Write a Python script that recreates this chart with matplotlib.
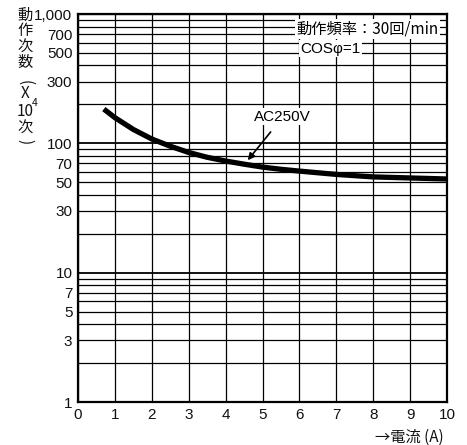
import matplotlib
matplotlib.use("Agg")
import matplotlib.pyplot as plt
from matplotlib.ticker import FixedLocator, NullFormatter, NullLocator

# Data
current_a = [0.7, 1.0, 1.5, 2.0, 2.5, 3.0, 3.5, 4.0, 4.5, 5.0, 5.5, 6.0, 7.0, 8.0, 9.0, 10.0]
operations_1e4 = [184, 158, 128, 108, 95, 85, 78, 73, 69, 65.5, 63, 61, 57.5, 55, 54, 53]
x_ticks = list(range(0, 11))
y_ticks = [1, 3, 5, 7, 10, 30, 50, 70, 100, 300, 500, 700, 1000]
y_tick_labels = ["1", "3", "5", "7", "10", "30", "50", "70", "100", "300", "500", "700", "1,000"]
y_grid = [v * d for d in (1, 10, 100) for v in range(1, 10)] + [1000]
series_label = "AC250V"

cjk = ["Noto Sans CJK JP", "Liberation Sans", "DejaVu Sans"]
plt.rcParams["font.family"] = ["Liberation Sans", "Noto Sans CJK JP", "DejaVu Sans"]

fig = plt.figure(figsize=(4.67, 4.45), dpi=100)
ax = fig.add_axes([78 / 467, 1 - 402 / 445, (447 - 78) / 467, (402 - 14) / 445])
ax.set_yscale("log")
ax.set_xlim(0, 10)
ax.set_ylim(1, 1000)

for v in y_grid:
    lw = 1.3 if v in (10, 100) else 0.9
    ax.axhline(v, color="black", lw=lw, zorder=1)
for v in x_ticks:
    ax.axvline(v, color="black", lw=0.9, zorder=1)

ax.plot(current_a, operations_1e4, color="black", lw=3.8, solid_capstyle="butt",
        solid_joinstyle="round", zorder=3)

ax.set_xticks(x_ticks)
ax.set_xticklabels([str(v) for v in x_ticks])
ax.yaxis.set_major_locator(FixedLocator(y_ticks))
ax.set_yticklabels(y_tick_labels)
ax.yaxis.set_minor_locator(NullLocator())
ax.yaxis.set_minor_formatter(NullFormatter())
ax.tick_params(axis="both", length=0, labelsize=11, colors="#111111", pad=4)
for s in ax.spines.values():
    s.set_linewidth(1.6)
    s.set_color("black")

ax.annotate(series_label, xy=(4.6, 74), xytext=(5.55, 160), fontsize=11,
            ha="center", va="center", zorder=5,
            bbox=dict(boxstyle="square,pad=0.1", fc="white", ec="none"),
            arrowprops=dict(arrowstyle="-|>", color="black", lw=1.2,
                            shrinkA=6, shrinkB=0, mutation_scale=10))

ax.text(5.93, 770, "動作頻率：30回/min", fontsize=11, family=cjk, ha="left", va="center",
        zorder=5, bbox=dict(boxstyle="square,pad=0.1", fc="white", ec="none"))
ax.text(6.03, 540, "COSφ=1", fontsize=11, ha="left", va="center", zorder=5,
        bbox=dict(boxstyle="square,pad=0.1", fc="white", ec="none"))

# vertical y label
ylab_chars = [("動", 25, 15, 0, 11, "center"), ("作", 25, 31, 0, 11, "center"),
              ("次", 25, 47, 0, 11, "center"), ("数", 25, 63, 0, 11, "center"),
              ("(", 25, 83, -90, 11, "center"), ("X", 25, 94, 0, 11, "center"),
              ("10", 25, 111, 0, 11, "center"), ("4", 32, 103, 0, 7.5, "left"),
              ("次", 25, 128, 0, 11, "center"), (")", 25, 142, -90, 11, "center")]
for ch, xpx, ypx, rot, fs, ha in ylab_chars:
    fig.text(xpx / 467, 1 - ypx / 445, ch, fontsize=fs, family=cjk, rotation=rot,
             ha=ha, va="center", color="#111111")

fig.text(444 / 467, 1 - 437 / 445, "→電流 (A)", fontsize=11, family=cjk,
         ha="right", va="center", color="#111111")

fig.savefig("out.png", dpi=100)
